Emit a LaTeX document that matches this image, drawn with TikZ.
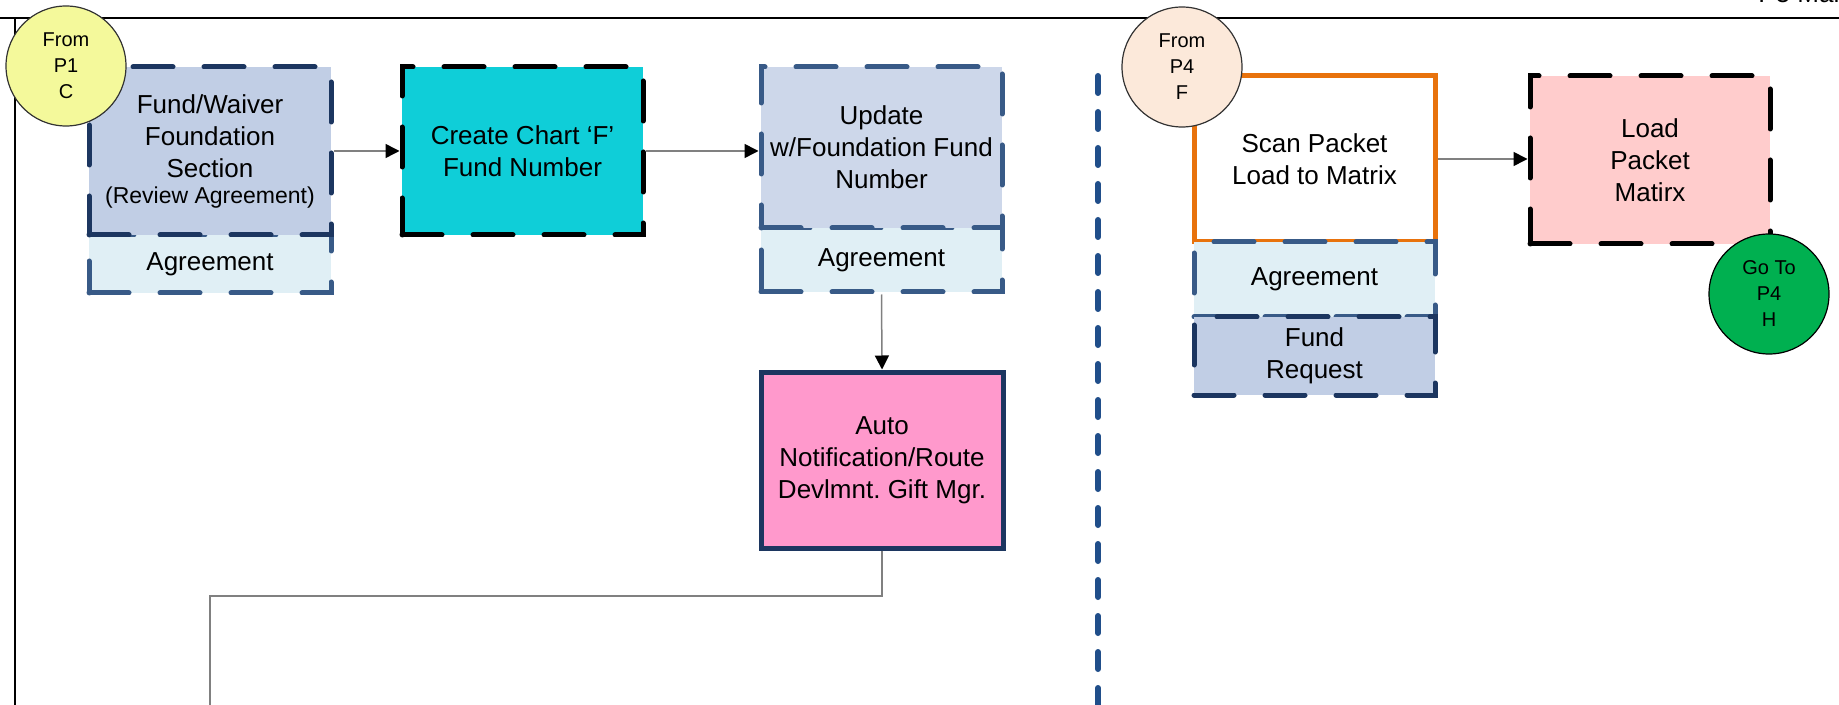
\documentclass[tikz,border=0pt]{standalone}
\usepackage{fontspec}
\setmainfont{Liberation Sans}
\usetikzlibrary{arrows.meta}
\frenchspacing
\definecolor{fwfill}{RGB}{193,206,229}
\definecolor{navy}{RGB}{28,54,96}
\definecolor{midnavy}{RGB}{56,90,135}
\definecolor{agfill}{RGB}{224,239,245}
\definecolor{upfill}{RGB}{205,215,234}
\definecolor{cyanfill}{RGB}{15,206,216}
\definecolor{pinkfill}{RGB}{255,153,204}
\definecolor{orangeline}{RGB}{232,114,12}
\definecolor{salmon}{RGB}{255,204,204}
\definecolor{gogreen}{RGB}{0,176,80}
\definecolor{peach}{RGB}{252,233,218}
\definecolor{yellowc}{RGB}{244,249,155}
\definecolor{sepblue}{RGB}{32,78,138}
\definecolor{linegray}{RGB}{128,128,128}
\newcommand\bxfont{\fontsize{13pt}{16pt}\selectfont}
\newcommand\rvfont{\fontsize{11.5pt}{13pt}\selectfont}
\newcommand\crfont{\fontsize{10pt}{13pt}\selectfont}
\tikzset{
  boxbase/.style={rectangle, inner sep=0pt, align=center, font=\bxfont},
  dashbox/.style={boxbase, draw, line width=2.5pt, dash pattern=on 20pt off 15.5pt, line cap=round},
  solidbox/.style={boxbase, draw, line width=2.5pt},
  connector/.style={circle, draw, line width=0.6pt, minimum size=60pt, inner sep=0pt, align=center, font=\crfont},
  flowline/.style={draw=linegray, line width=0.75pt, -{Triangle[length=7pt,width=7pt,color=black]}},
  plainline/.style={draw=linegray, line width=0.75pt},
  sepline/.style={draw=sepblue, line width=3pt, line cap=round, dash pattern=on 8.5pt off 9.5pt},
  frameline/.style={draw=black, line width=1pt}
}
\begin{document}
\begin{tikzpicture}[x=0.5pt,y=-0.5pt]
\useasboundingbox (0,0) rectangle (1839,705);
% frame
\coordinate (tl) at (0,18);
\coordinate (tr) at (1839,18);
\coordinate (lt) at (15,18);
\coordinate (lb) at (15,705);
\draw[frameline] (tl) -- (tr);
\draw[frameline] (lt) -- (lb);
\node[anchor=base west, font=\bxfont, inner sep=0pt] (pagetitle) at (1758,3) {P5 Mar};
% separator
\coordinate (septop) at (1098,76);
\coordinate (sepbot) at (1098,712);
\draw[sepline] (septop) -- (sepbot);
% left column
\node[dashbox, draw=midnavy, fill=agfill, minimum width=121pt, minimum height=29pt] (fwag) at (210,264) {Agreement};
\node[dashbox, draw=navy, fill=fwfill, minimum width=121pt, minimum height=84pt] (fw) at (210,151)
  {Fund/Waiver\\Foundation\\Section\\[-3pt]{\rvfont (Review Agreement)}};
\node[dashbox, draw=black, fill=cyanfill, minimum width=120.5pt, minimum height=84pt] (cc) at (522.5,151)
  {Create Chart ‘F’\\Fund Number};
\node[dashbox, draw=midnavy, fill=agfill, minimum width=120.5pt, minimum height=32pt] (upag) at (881.5,260) {\raisebox{-1.5pt}{Agreement}};
\node[dashbox, draw=midnavy, fill=upfill, minimum width=120.5pt, minimum height=80.5pt] (up) at (881.5,147.5)
  {\raisebox{-1.5pt}{Update}\\\raisebox{-1.5pt}{w/Foundation Fund}\\\raisebox{-1.5pt}{Number}};
\node[solidbox, draw=navy, fill=pinkfill, minimum width=121pt, minimum height=88pt] (auto) at (882,460)
  {Auto\\Notification/Route\\Devlmnt. Gift Mgr.};
\node[connector, fill=yellowc, draw=black!80] (fromP1) at (66,66) {From\\P1\\C};
% right column
\node[solidbox, draw=orangeline, fill=white, minimum width=120.5pt, minimum height=83pt] (scan) at (1314.5,159)
  {Scan Packet\\Load to Matrix};
\node[dashbox, draw=midnavy, fill=agfill, minimum width=120.5pt, minimum height=37.5pt] (scag) at (1314.5,279.5) {Agreement};
\node[dashbox, draw=navy, fill=fwfill, minimum width=120.5pt, minimum height=39pt] (fr) at (1314.5,356)
  {Fund\\Request};
\node[dashbox, draw=black, fill=salmon, minimum width=120pt, minimum height=84pt] (lp) at (1650,160)
  {Load\\Packet\\Matirx};
\node[connector, fill=peach, draw=black!80] (fromP4) at (1182,67) {From\\P4\\F};
\node[connector, fill=gogreen, draw=black] (goP4) at (1769,294) {Go To\\P4\\H};
% connectors
\draw[flowline] (fw.east) -- (cc.west);
\draw[flowline] (cc.east) -- (cc.east -| up.west);
\draw[flowline] (upag.south) -- (auto.north);
\draw[flowline] (scan.east) -- (scan.east -| lp.west);
\coordinate (bend1) at (882,596);
\coordinate (bend2) at (210,596);
\coordinate (offpage) at (210,712);
\draw[plainline] (auto.south) -- (bend1) -- (bend2) -- (offpage);
\end{tikzpicture}
\end{document}
